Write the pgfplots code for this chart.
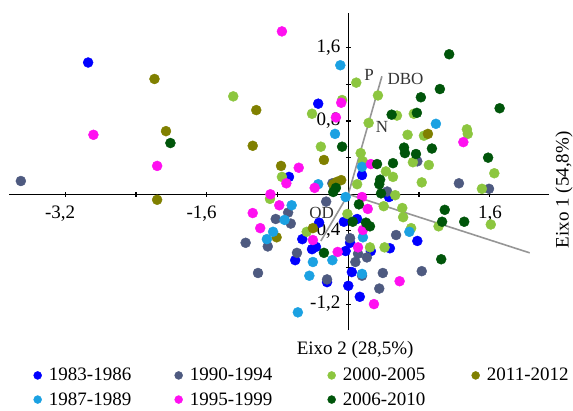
\documentclass[border=0pt]{standalone}
\usepackage{pgfplots}
\pgfplotsset{compat=1.18}
\usepackage{fontspec}
\setmainfont{Liberation Serif}
\definecolor{cA}{HTML}{0000FF}
\definecolor{cB}{HTML}{1BA1E2}
\definecolor{cC}{HTML}{4E5A80}
\definecolor{cD}{HTML}{FF10F0}
\definecolor{cE}{HTML}{8CC63F}
\definecolor{cF}{HTML}{00550A}
\definecolor{cG}{HTML}{808000}
\definecolor{vgray}{HTML}{969696}
\begin{document}
\begin{tikzpicture}
\path[use as bounding box] (0,0) rectangle (573pt,410pt);
\begin{axis}[
  at={(9pt,80pt)}, anchor=south west,
  scale only axis, width=540pt, height=317pt,
  xmin=-3.834, xmax=2.268, ymin=-1.483, ymax=1.981,
  axis lines=middle,
  axis line style={-, line width=1.3pt, black},
  xtick={-3.2,-2.4,-1.6,-0.8,0.8,1.6},
  xticklabels={{-3,2\kern10pt},{},{-1,6\kern10pt},{},{},{1,6}},
  ytick={-1.2,-0.8,-0.4,0.4,0.8,1.2,1.6},
  yticklabels={{-1,2},{},{-0,4},{},{0,8},{},{1,6}},
  tick style={line width=1.2pt, black},
  major tick length=5pt,
  tick label style={font=\fontsize{19}{21}\selectfont},
  xticklabel style={yshift=-6pt},
  yticklabel style={xshift=-2pt},
  xlabel={Eixo 2 (28,5\%)},
  ylabel={Eixo 1 (54,8\%)},
  every axis x label/.style={at={(axis description cs:0.641,-0.063)}, anchor=center, font=\fontsize{19}{21}\selectfont},
  every axis y label/.style={at={(axis description cs:1.028,0.442)}, anchor=center, rotate=90, font=\fontsize{19}{21}\selectfont},
  clip=false,
  legend columns=4,
  legend style={draw=none, fill=none, at={(axis description cs:0.0457,-0.121)}, anchor=north west,
    inner sep=0pt, outer sep=0pt, font=\fontsize{19}{21}\selectfont,
    nodes={inner sep=0pt}, row sep=10pt,
    /tikz/every odd column/.append style={column sep=7.3pt},
    /tikz/every even column/.append style={column sep=0pt}},
  legend cell align=left,
  legend image code/.code={\draw[#1, mark size=4pt] plot coordinates {(0pt,0pt)};},
]
% vectors
\addplot[no marks, color=vgray, line width=1.6pt, forget plot] coordinates {(0,0) (0.38,1.29)};
\addplot[no marks, color=vgray, line width=1.6pt, forget plot] coordinates {(0,0) (2.05,-0.64)};
\addplot[no marks, color=vgray, line width=1.6pt, forget plot] coordinates {(0,0) (-0.31,-0.51)};

% 1983-1986
\addplot[only marks, mark=*, mark size=5pt, color=cA] coordinates {
(-2.94,1.44) (-0.34,0.99) (-0.67,0.19) (0.155,0.21) (0.46,-0.03) (-0.52,-0.49) (-0.33,-0.31) (-0.41,-0.60) (-0.365,-0.575) (-0.60,-0.72) (-0.05,-0.30) (0.10,-0.27) (0.02,-0.53) (0.78,-0.51) (0.47,-0.59) (0.255,-0.62) (-0.03,-0.62) (0.04,-0.85) (0.0,-1.00) (0.13,-1.12) (-0.24,-0.96)};
\addlegendentry{\makebox[125.7pt][l]{1983-1986}}
% 1990-1994
\addplot[only marks, mark=*, mark size=5pt, color=cC] coordinates {
(-3.70,0.145) (-0.82,-0.27) (-0.68,-0.20) (-0.65,-0.32) (-1.16,-0.53) (-0.91,-0.57) (-1.02,-0.86) (-0.18,0.12) (-0.25,-0.08) (-0.58,-0.64) (1.25,0.12) (1.59,0.06) (0.78,0.36) (0.44,0.03) (0.54,-0.445) (0.02,-0.48) (0.11,-0.65) (0.21,-0.69) (0.08,-0.74) (0.83,-0.84) (0.39,-0.86) (0.155,-0.89) (0.35,-1.03) (-0.24,-0.93)};
\addlegendentry{\makebox[137.7pt][l]{1990-1994}}
% 2000-2005
\addplot[only marks, mark=*, mark size=5pt, color=cE] coordinates {
(-1.30,1.07) (-0.75,0.19) (-0.885,-0.05) (-0.41,0.88) (-0.07,1.03) (-0.31,0.52) (0.09,1.22) (0.335,1.08) (0.23,0.78) (0.55,0.86) (0.74,0.88) (0.67,0.65) (0.855,0.64) (1.34,0.71) (1.35,0.66) (0.14,0.45) (0.165,0.36) (0.73,0.35) (0.91,0.32) (0.425,0.25) (0.505,0.19) (0.10,0.11) (0.83,0.13) (1.65,0.23) (1.51,0.06) (0.53,-0.01) (0.61,-0.15) (0.62,-0.25) (0.40,-0.13) (-0.01,-0.215) (-0.47,-0.41) (0.245,-0.58) (0.41,-0.58) (0.71,-0.37) (1.02,-0.35) (1.61,-0.33)};
\addlegendentry{\makebox[128.7pt][l]{2000-2005}}
% 2011-2012
\addplot[only marks, mark=*, mark size=5pt, color=cG] coordinates {
(-2.19,1.26) (-1.04,0.92) (-2.06,0.69) (-1.08,0.53) (-0.76,0.31) (-2.16,-0.06) (-0.275,0.375) (-0.17,0.11) (-0.13,0.135) (-0.08,0.155) (0.90,0.66) (-0.81,-0.47) (-0.40,-0.37)};
\addlegendentry{2011-2012}
% 1987-1989
\addplot[only marks, mark=*, mark size=5pt, color=cB] coordinates {
(-0.09,1.41) (-0.15,0.66) (0.99,0.77) (-0.34,0.11) (-0.64,-0.12) (-0.72,-0.28) (-0.85,-0.41) (-0.92,-0.49) (-0.03,-0.03) (0.165,-0.47) (0.69,-0.41) (-0.40,-0.74) (-0.18,-0.72) (-0.44,-0.89) (-0.57,-1.29) (0.155,-0.87) (0.155,0.30)};
\addlegendentry{1987-1989}
% 1995-1999
\addplot[only marks, mark=*, mark size=5pt, color=cD] coordinates {
(-0.75,1.78) (-2.88,0.65) (-2.16,0.31) (-0.14,0.84) (-0.08,1.00) (-0.56,0.29) (-0.70,0.12) (-0.38,0.07) (-0.88,0.00) (-0.78,-0.12) (-1.08,-0.205) (-0.995,-0.37) (-0.40,-0.50) (-0.12,-0.63) (1.30,0.57) (0.255,0.33) (0.155,-0.03) (0.22,-0.16) (0.165,-0.39) (0.11,-0.58) (0.58,-0.95) (0.29,-1.20)};
\addlegendentry{1995-1999}
% 2006-2010
\addplot[only marks, mark=*, mark size=5pt, color=cF] coordinates {
(-2.01,0.56) (-0.07,0.52) (1.14,1.53) (1.035,1.15) (0.82,1.06) (1.71,0.94) (0.49,0.87) (0.775,0.89) (0.63,0.51) (0.64,0.45) (0.765,0.44) (0.945,0.50) (1.58,0.40) (0.325,0.33) (0.505,0.34) (0.36,0.16) (0.35,0.11) (-0.17,0.025) (0.37,0.01) (0.12,-0.11) (0.05,-0.30) (0.20,-0.31) (0.245,-0.35) (-0.275,-0.64) (1.09,-0.17) (1.06,-0.30) (1.31,-0.30) (1.05,-0.71) (-0.14,0.07)};
\addlegendentry{2006-2010}

\node[font=\fontsize{17}{19}\selectfont, text=black!80] at (axis cs:0.235,1.30) {P};
\node[font=\fontsize{17}{19}\selectfont, text=black!80] at (axis cs:0.646,1.26) {DBO};
\node[font=\fontsize{17}{19}\selectfont, text=black!80] at (axis cs:0.38,0.735) {N};
\node[font=\fontsize{17}{19}\selectfont, text=black!80] at (axis cs:-0.30,-0.205) {OD};
\end{axis}
\end{tikzpicture}
\end{document}
